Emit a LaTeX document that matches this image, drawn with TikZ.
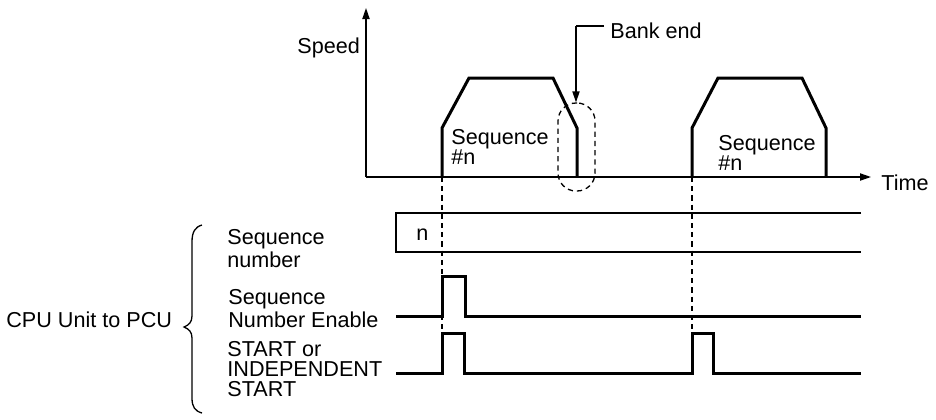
\documentclass[tikz,border=0pt]{standalone}
\usepackage{fontspec}
\setmainfont{Liberation Sans}
\usetikzlibrary{arrows.meta}
\begin{document}
\begin{tikzpicture}[x=0.5pt,y=-0.5pt,
  txt/.style={inner sep=0pt,anchor=base west,align=left,font=\fontsize{10.8}{9.8}\selectfont},
  thin/.style={line width=0.65pt},
  wave/.style={line width=1.5pt,line join=miter},
  guide/.style={line width=0.65pt,dash pattern=on 2.6pt off 2pt},
  axisarrow/.style={-{Triangle[length=5.5pt,width=3.6pt]}}]
\useasboundingbox (0,0) rectangle (936,419);
% axes
\coordinate (orig) at (366,177);
\coordinate (ytop) at (366,8);
\coordinate (xend) at (871,177);
\draw[thin,axisarrow] (orig) -- (ytop);
\draw[thin,axisarrow] (orig) -- (xend);
\node[txt] (speed) at (297,53) {Speed};
\node[txt] (time) at (881,190) {Time};
% first trapezoid
\coordinate (a0) at (442,177);
\coordinate (a5) at (577,177);
\draw[wave] (a0) -- (442,128) -- (469,78) -- (553,78) -- (577,128) -- (a5);
\node[txt] (seq1) at (451,164) {Sequence\\\#n};
% second trapezoid
\coordinate (b0) at (692,177);
\coordinate (b5) at (826,177);
\draw[wave] (b0) -- (692,128) -- (718,78) -- (802,78) -- (826,128) -- (b5);
\node[txt] (seq2) at (718,170) {Sequence\\\#n};
% bank end
\node[draw,guide,rounded corners=9pt,minimum width=18.5pt,minimum height=44pt,inner sep=0pt] (bank) at (576.5,147) {};
\node[txt] (banktxt) at (610,38) {Bank end};
\coordinate (bk) at (576,26);
\draw[thin] ([xshift=-3pt]banktxt.west |- bk) -- (bk);
\draw[thin,-{Triangle[length=5.5pt,width=3.6pt]}] (bk) -- (bank.north -| bk);
% sequence number box
\coordinate (sn1) at (396,213);
\coordinate (sn2) at (396,252);
\draw[thin] (861,213) -- (sn1) -- (sn2) -- (861,252);
\node[txt] (n) at (416,240) {n};
% enable
\draw[wave] (396,316) -- (442,316) -- (442,276) -- (465,276) -- (465,316) -- (861,316);
% start
\draw[wave] (396,373) -- (442,373) -- (442,333) -- (464,333) -- (464,373) -- (692,373) -- (692,333) -- (713,333) -- (713,373) -- (861,373);
% guides
\coordinate (g1) at (442,333);
\coordinate (g2) at (692,333);
\draw[guide] (a0) -- (g1);
\draw[guide] (b0) -- (g2);
% labels
\node[txt] (l1) at (227,267) {Sequence\\number};
\node[txt] (l2) at (228,327) {Sequence\\Number Enable};
\node[txt] (l3) at (227,396) {START or\\INDEPENDENT\\START};
\node[txt] (cpu) at (6,327) {CPU Unit to PCU};
% brace
\draw[thin] (202,225) .. controls (195,227) and (192,232) .. (192,242)
  -- (192,316) .. controls (192,322) and (189,325) .. (184,327)
  .. controls (189,329) and (192,332) .. (192,338)
  -- (192,398) .. controls (192,407) and (195,411) .. (202,413);
\end{tikzpicture}
\end{document}
